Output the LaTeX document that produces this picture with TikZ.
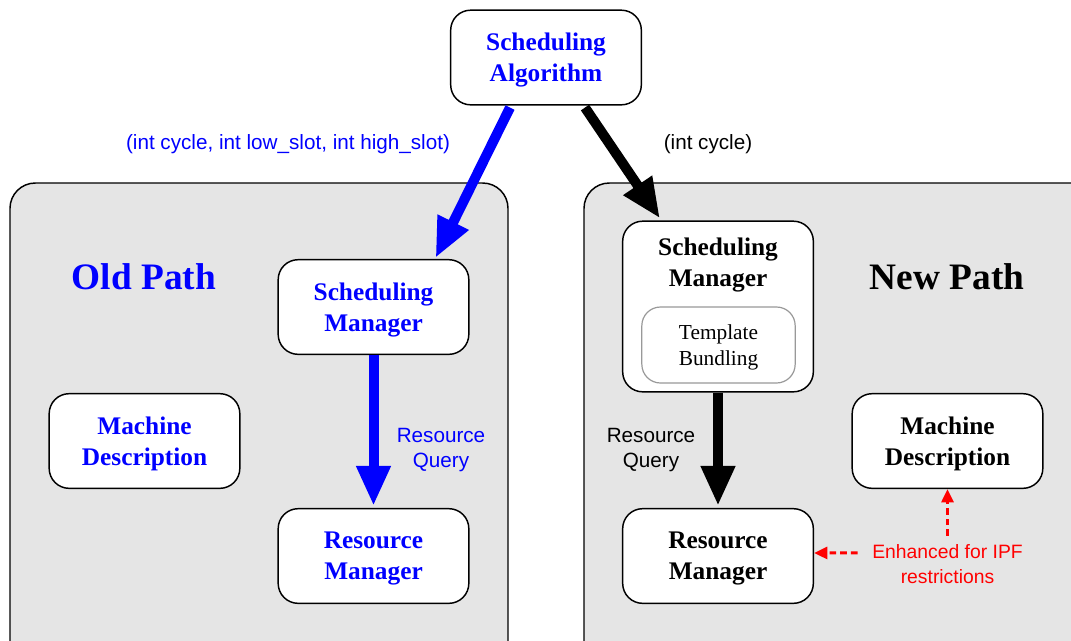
\documentclass[tikz,border=0pt]{standalone}
\usepackage{fontspec}
\setmainfont{Liberation Serif}
\setsansfont{Liberation Sans}
\usepackage{tikz}
\usetikzlibrary{arrows.meta}
\usetikzlibrary{positioning}
\usetikzlibrary{calc}
\definecolor{panelgray}{HTML}{E5E5E5}
\definecolor{innergray}{HTML}{999999}
\begin{document}
\begin{tikzpicture}[x=0.75pt,y=-0.75pt,
     box/.style={draw=black,line width=1.1pt,fill=white,rounded corners=15pt,
          minimum width=143pt,minimum height=71pt,align=center,text depth=0pt,
          font=\fontsize{19}{23.5}\selectfont\bfseries},
     panel/.style={draw=black,line width=1.1pt,fill=panelgray,rounded corners=19pt},
     lbl/.style={font=\sffamily\fontsize{15.5}{19}\selectfont,align=center},
     bigarrow/.style={line width=7.5pt,-{Triangle[length=30pt,width=24pt]}},
     redarrow/.style={red,line width=2.2pt,dash pattern=on 5pt off 3pt,
          -{Triangle[length=10pt,width=9pt]}}]
     \useasboundingbox (0,0) rectangle (1071,640);
     \clip (0,0) rectangle (1071,640);
     % two paths
     \draw[panel] (10,183) rectangle (508,700);
     \draw[panel] (584,183) rectangle (1110,700);
     \node[box,text=blue] (alg) at (546,57.5) {Scheduling\\Algorithm};
     % old path
     \node[font=\fontsize{28}{30}\selectfont\bfseries,text=blue] (oldp) at (144,277) {Old Path};
     \node[box,text=blue] (smgrO) at (373.5,307) {Scheduling\\Manager};
     \node[box,text=blue] (mdO) at (144.5,441) {Machine\\Description};
     \node[box,text=blue] (rmgrO) at (373.5,556) {Resource\\Manager};
     % new path
     \node[font=\fontsize{28}{30}\selectfont\bfseries] (newp) at (947,277) {New Path};
     \node[box,minimum height=128pt] (smgrN) at (718,306.5) {};
     \node[font=\fontsize{19}{23.5}\selectfont\bfseries,align=center,text depth=0pt] (smgrNt) at (718,262.5) {Scheduling\\Manager};
     \node[draw=innergray,line width=0.9pt,fill=white,rounded corners=14pt,
          minimum width=115pt,minimum height=57pt,align=center,text depth=0pt,
          font=\fontsize{16}{19}\selectfont] (tmpl) at (718.5,345) {Template\\Bundling};
     \node[box] (mdN) at (947.5,441) {Machine\\Description};
     \node[box] (rmgrN) at (718,556) {Resource\\Manager};
     % connectors
     \draw[bigarrow,blue] ($(alg.south)+(-36,2)$) -- ($(smgrO.north)+(62,-1)$);
     \draw[bigarrow,black] ($(alg.south)+(39,2)$) -- ($(smgrN.north)+(-58,-2)$);
     \draw[bigarrow,blue] (smgrO.south) -- ($(rmgrO.north)+(0,-2)$);
     \draw[bigarrow,black] (smgrN.south) -- ($(rmgrN.north)+(0,-2)$);
     \node[lbl,text=blue] (args) at (288,144) {(int cycle, int low\_slot, int high\_slot)};
     \node[lbl] (argn) at (708,144) {(int cycle)};
     \node[lbl,text=red,font=\sffamily\fontsize{14.5}{18.5}\selectfont] (enh) at (947.5,564) {Enhanced for IPF\\restrictions};
     \node[lbl,text=blue] (rqO) at (441,450) {Resource\\Query};
     \node[lbl] (rqN) at (651,450) {Resource\\Query};
     \draw[redarrow] ($(enh.north)+(0,-4)$) -- (mdN.south);
     \draw[redarrow] ($(enh.north west)+(-10,13)$) -- ($(rmgrN.east)+(0,-3)$);
\end{tikzpicture}
\end{document}
